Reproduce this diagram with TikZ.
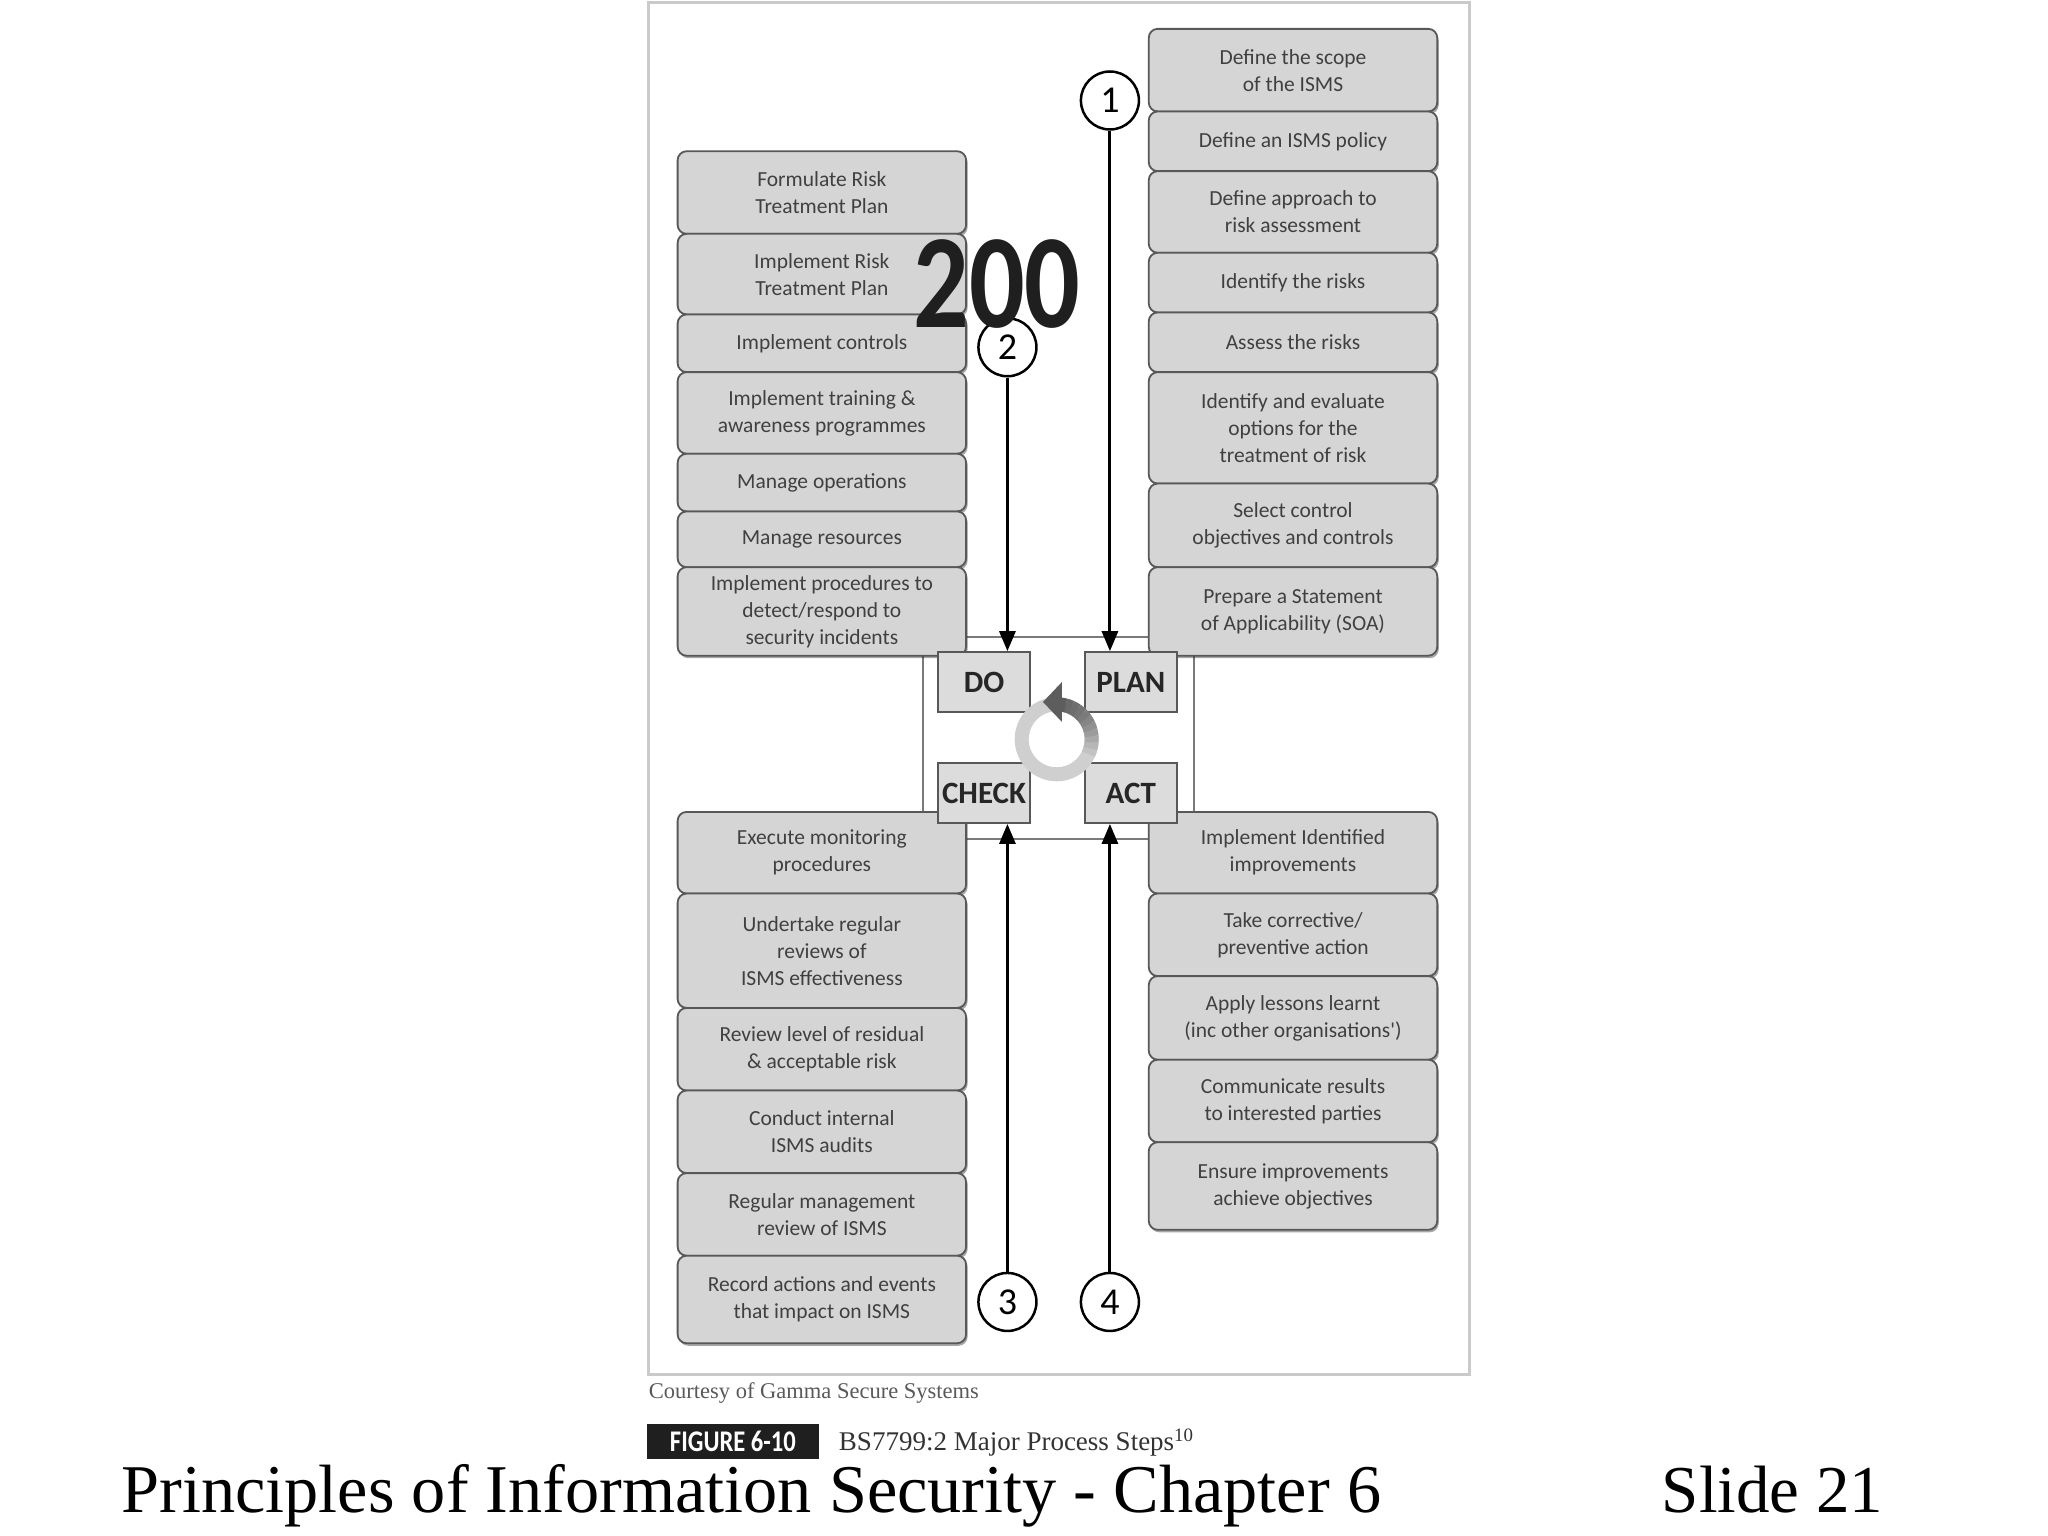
\documentclass[tikz,border=0pt]{standalone}
\usepackage{fontspec}
\setmainfont{Liberation Serif}
\newfontfamily\boxfont{Carlito}
\newfontfamily\condfont[FakeStretch=0.82]{Carlito}
\usetikzlibrary{arrows.meta,shadows}
\definecolor{boxfill}{HTML}{D5D5D5}
\definecolor{boxdraw}{HTML}{585858}
\definecolor{boxtext}{HTML}{404040}
\definecolor{framecol}{HTML}{CACACA}
\definecolor{innercol}{HTML}{7A7A7A}
\definecolor{cfill}{HTML}{DCDCDC}
\definecolor{ringlight}{HTML}{CFCFCF}
\definecolor{ringdark}{HTML}{505050}
\newcommand{\mkbox}[6]{%
  \pgfmathsetmacro\bc{(#4+#5)/2}\pgfmathsetmacro\bh{(#5-#4)*0.995}%
  \node[stepbox, minimum height=\bh pt] (#1) at (#3,\bc) {#6};}
\begin{document}
\begin{tikzpicture}[x=0.995pt,y=-0.995pt,
  stepbox/.style={draw=boxdraw, fill=boxfill, line width=1.8pt, rounded corners=9pt,
    text=boxtext, font=\boxfont\fontsize{21.5}{27}\selectfont, align=center,
    inner sep=0pt, minimum width=288.5pt,
    drop shadow={shadow xshift=1.5pt, shadow yshift=-2.5pt, opacity=0.35, fill=black}},
  phasebox/.style={draw=boxdraw, fill=cfill, line width=1.8pt, inner sep=0pt,
    minimum width=92pt, minimum height=60pt, text=black!85,
    font=\boxfont\bfseries\fontsize{31}{31}\selectfont},
  numcirc/.style={circle, draw=black, fill=white, line width=2.5pt, minimum size=58pt,
    inner sep=0pt, font=\boxfont\fontsize{38}{38}\selectfont},
  arr/.style={line width=3pt, -{Triangle[width=16pt,length=20pt]}}]
\useasboundingbox[fill=white] (0pt,0pt) rectangle (2048pt,-1536pt);
% frames
\draw[framecol, line width=3pt] (652,3) rectangle (1477,1381);
\draw[innercol, line width=2pt] (928,640) rectangle (1200,843);
% PLAN column
\mkbox{p1}{r}{1299.5}{29}{112}{Define the scope\\of the ISMS}
\mkbox{p2}{r}{1299.5}{112}{172}{Define an ISMS policy}
\mkbox{p3}{r}{1299.5}{172}{254}{Define approach to\\risk assessment}
\mkbox{p4}{r}{1299.5}{254}{314}{Identify the risks}
\mkbox{p5}{r}{1299.5}{314}{374}{Assess the risks}
\mkbox{p6}{r}{1299.5}{374}{486}{Identify and evaluate\\options for the\\treatment of risk}
\mkbox{p7}{r}{1299.5}{486}{570}{Select control\\objectives and controls}
\mkbox{p8}{r}{1299.5}{570}{659}{Prepare a Statement\\of Applicability (SOA)}
% DO column
\mkbox{d1}{l}{826}{152}{235}{Formulate Risk\\Treatment Plan}
\mkbox{d2}{l}{826}{235}{316}{Implement Risk\\Treatment Plan}
\mkbox{d3}{l}{826}{316}{374}{Implement controls}
\mkbox{d4}{l}{826}{374}{456}{Implement training \&\\awareness programmes}
\mkbox{d5}{l}{826}{456}{514}{Manage operations}
\mkbox{d6}{l}{826}{514}{570}{Manage resources}
\mkbox{d7}{l}{826}{570}{659}{Implement procedures to\\detect/respond to\\security incidents}
% CHECK column
\mkbox{k1}{l}{826}{816}{898}{Execute monitoring\\procedures}
\mkbox{k2}{l}{826}{898}{1013}{Undertake regular\\reviews of\\ISMS effectiveness}
\mkbox{k3}{l}{826}{1013}{1096}{Review level of residual\\\& acceptable risk}
\mkbox{k4}{l}{826}{1096}{1179}{Conduct internal\\ISMS audits}
\mkbox{k5}{l}{826}{1179}{1262}{Regular management\\review of ISMS}
\mkbox{k6}{l}{826}{1262}{1350}{Record actions and events\\that impact on ISMS}
% ACT column
\mkbox{a1}{r}{1299.5}{816}{898}{Implement Identified\\improvements}
\mkbox{a2}{r}{1299.5}{898}{981}{Take corrective/\\preventive action}
\mkbox{a3}{r}{1299.5}{981}{1065}{Apply lessons learnt\\(inc other organisations')}
\mkbox{a4}{r}{1299.5}{1065}{1148}{Communicate results\\to interested parties}
\mkbox{a5}{r}{1299.5}{1148}{1236}{Ensure improvements\\achieve objectives}
% phase boxes
\node[phasebox] (do) at (989,685.5) {DO};
\node[phasebox] (plan) at (1136.5,685.5) {PLAN};
\node[phasebox] (check) at (989,797) {CHECK};
\node[phasebox] (act) at (1136.5,797) {ACT};
% cycle ring
\coordinate (ringc) at (1062,743);
\draw[ringlight, line width=14pt] (ringc) circle[radius=35pt];
\foreach \a/\c in {-25/10,-15/20,-5/30,5/40,15/50,25/58,35/66,45/72,55/76,65/80}{
  \draw[ringlight!\the\numexpr100-\c\relax!ringdark, line width=14pt] (ringc) ++(\a:35pt) arc[start angle=\a, end angle=\a+10.5, radius=35pt];
}
\draw[ringdark!90!ringlight, line width=14pt] (ringc) ++(75:35pt) arc[start angle=75, end angle=86, radius=35pt];
\fill[ringdark!90!ringlight] (1067.3,685.4) -- (1048.2,705.5) -- (1067.3,725.6) -- cycle;
% numbered circles
\node[numcirc] (c1) at (1115.5,101) {1};
\node[numcirc] (c2) at (1012.5,349) {2};
\node[numcirc] (c3) at (1012.5,1308.5) {3};
\node[numcirc] (c4) at (1115.5,1308.5) {4};
\draw[arr] (c1.south) -- (c1.south |- plan.north);
\draw[arr] (c2.south) -- (c2.south |- do.north);
\draw[arr] (c3.north) -- (c3.north |- check.south);
\draw[arr] (c4.north) -- (c4.north |- act.south);
% overlay number
\node[text=black!88, font=\condfont\bfseries\fontsize{134}{134}\selectfont, inner sep=0pt] (pg) at (1002,285.5) {200};
% captions
\node[anchor=base west, inner sep=0pt, text=black!65, font=\fontsize{22.5}{27}\selectfont] (court) at (652,1406) {Courtesy of Gamma Secure Systems};
\node[anchor=west, fill=black!88, text=white, minimum width=172pt, minimum height=35pt, inner sep=0pt,
  font=\condfont\bfseries\fontsize{30}{30}\selectfont] (fig) at (650,1448.5) {FIGURE 6-10};
\node[anchor=base west, inner sep=0pt, text=black!80, font=\fontsize{27}{30}\selectfont] (figt) at (843,1458) {BS7799:2 Major Process Steps\textsuperscript{10}};
\node[anchor=base west, inner sep=0pt, font=\fontsize{68.3}{72}\selectfont] (title) at (122,1520) {Principles of Information Security - Chapter 6};
\node[anchor=base west, inner sep=0pt, font=\fontsize{67}{72}\selectfont] (slide) at (1670,1520) {Slide 21};
\end{tikzpicture}
\end{document}
